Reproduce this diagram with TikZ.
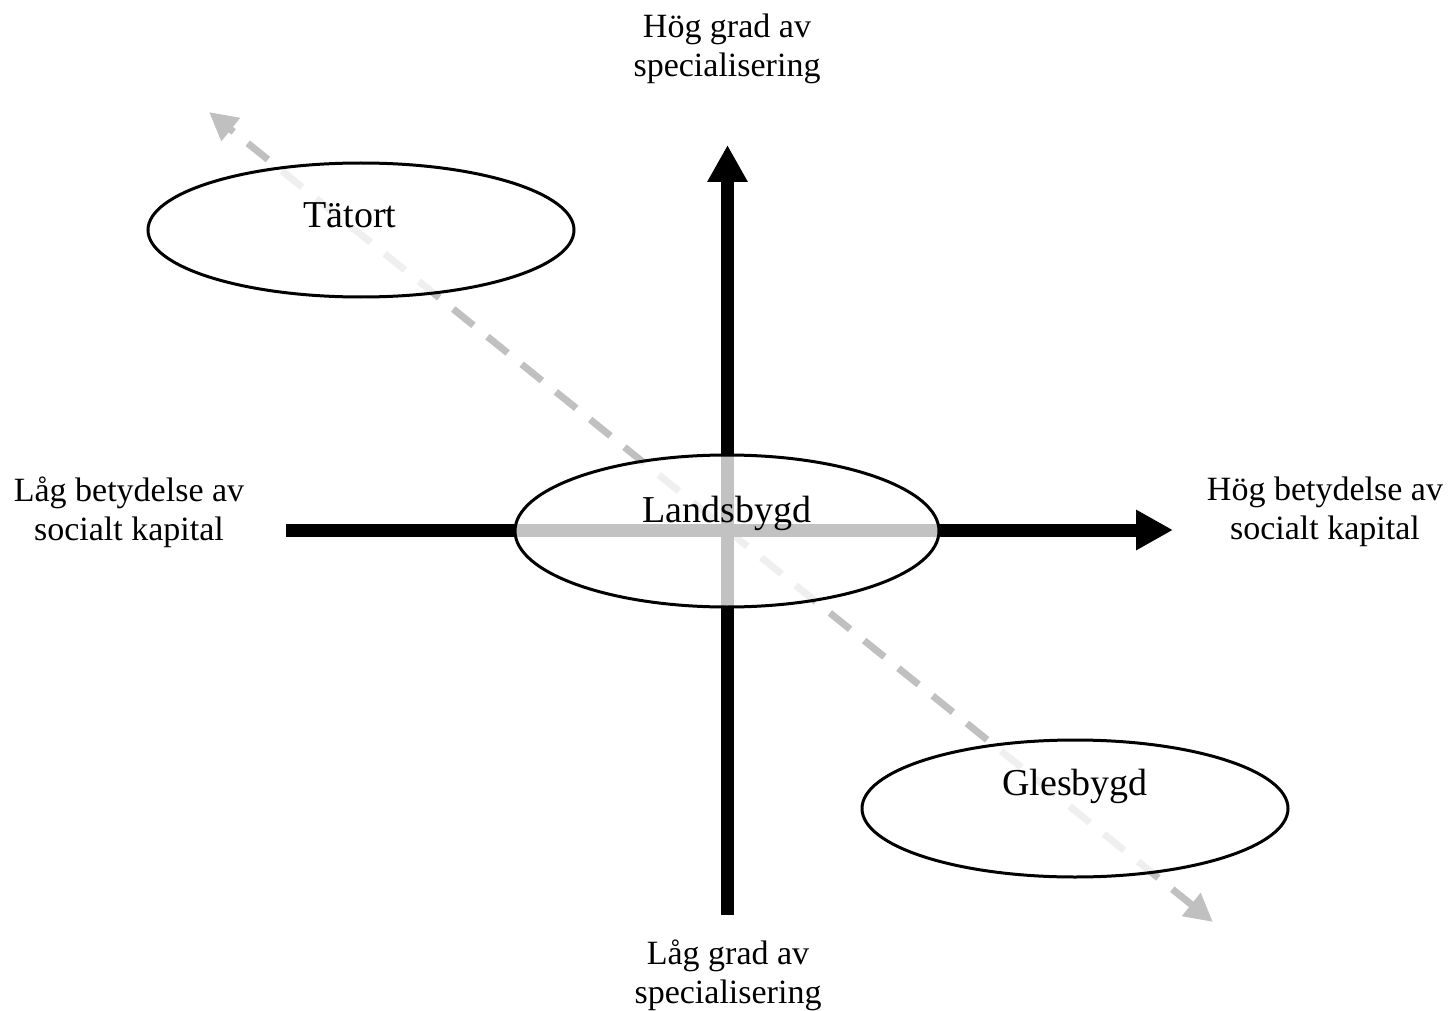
\documentclass[tikz,border=0pt]{standalone}
\usepackage{fontspec}
\setmainfont{Liberation Serif}
\usetikzlibrary{arrows.meta,shapes.geometric}
\definecolor{dashgray}{HTML}{C0C0C0}
\tikzset{
  axisline/.style={line width=13pt,-{Triangle[length=37pt,width=38pt]}},
  diagline/.style={draw=dashgray,line width=7pt,dash pattern=on 26pt off 18pt,
     {Triangle[length=28pt,width=28pt]}-{Triangle[length=28pt,width=28pt]}},
  region/.style={ellipse,draw=black,line width=3pt,fill=white,fill opacity=0.76,inner sep=0pt},
  axislabel/.style={font=\fontsize{34}{39}\selectfont,align=center,inner sep=0pt},
  regionlabel/.style={font=\fontsize{38}{44}\selectfont,inner sep=0pt,anchor=base}
}
\begin{document}
\begin{tikzpicture}[x=1pt,y=-1pt]
\useasboundingbox (0,0) rectangle (1449,1011);
% diagonal dashed arrow
\coordinate (dA) at (209,112);
\coordinate (dB) at (1213,922);
\draw[diagline] (dB) -- (dA);
% axes
\coordinate (vB) at (727.5,915);
\coordinate (vT) at (727.5,145);
\coordinate (hL) at (286,530);
\coordinate (hR) at (1173,530);
\draw[axisline] (vB) -- (vT);
\draw[axisline] (hL) -- (hR);
% regions
\node[region,minimum width=426pt,minimum height=134pt] (tatort) at (361,230) {};
\node[region,minimum width=424pt,minimum height=152pt] (lands) at (727,531) {};
\node[region,minimum width=426pt,minimum height=137pt] (gles) at (1075,808.5) {};
\node[regionlabel] (tatortT) at (350,228) {Tätort};
\node[regionlabel] (landsT) at (727,522) {Landsbygd};
\node[regionlabel] (glesT) at (1075,795) {Glesbygd};
% axis labels
\node[axislabel] (top) at (727,49) {Hög grad av\\specialisering};
\node[axislabel] (bottom) at (728,975) {Låg grad av\\specialisering};
\node[axislabel] (left) at (129,512) {Låg betydelse av\\socialt kapital};
\node[axislabel] (right) at (1325,512) {Hög betydelse av\\socialt kapital};
\end{tikzpicture}
\end{document}
